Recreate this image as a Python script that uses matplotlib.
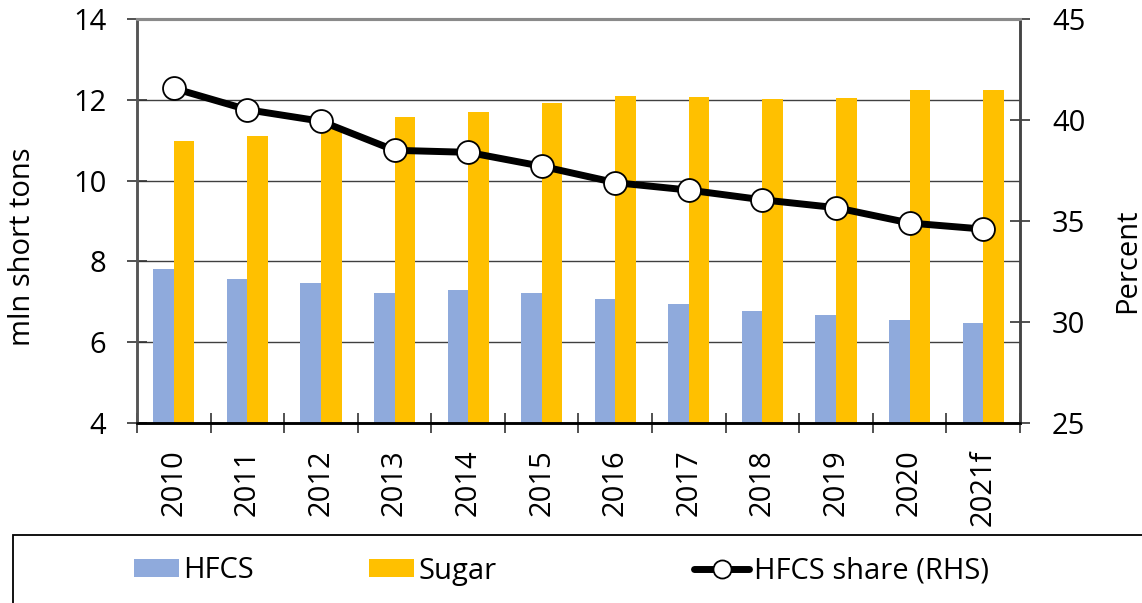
import matplotlib
matplotlib.use("Agg")
import matplotlib.pyplot as plt
from matplotlib.lines import Line2D
from matplotlib.patches import Patch, Rectangle
import numpy as np

years = ["2010", "2011", "2012", "2013", "2014", "2015", "2016", "2017", "2018", "2019", "2020", "2021f"]
hfcs = [7.82, 7.56, 7.47, 7.23, 7.28, 7.21, 7.08, 6.95, 6.78, 6.67, 6.56, 6.47]
sugar = [10.97, 11.10, 11.35, 11.57, 11.69, 11.92, 12.10, 12.07, 12.03, 12.04, 12.25, 12.24]
share = [41.57, 40.51, 39.94, 38.50, 38.40, 37.71, 36.90, 36.53, 36.05, 35.66, 34.90, 34.60]

C_HFCS = "#8FAADC"
C_SUGAR = "#FFC000"
FS = 21

plt.rcParams['font.family'] = ['Open Sans', 'DejaVu Sans']

fig = plt.figure(figsize=(11.42, 6.03), dpi=100)
W, H = 1142, 603
ax = fig.add_axes([137 / W, 1 - 423 / H, (1020 - 137) / W, (423 - 19) / H])
ax2 = ax.twinx()

x = np.arange(len(years))
bw = 0.28
ax.bar(x - bw / 2, hfcs, width=bw, color=C_HFCS, zorder=2)
ax.bar(x + bw / 2, sugar, width=bw, color=C_SUGAR, zorder=2)

ax.set_xlim(-0.5, len(years) - 0.5)
ax.set_ylim(4, 14)
ax.set_yticks([4, 6, 8, 10, 12, 14])
ax.set_axisbelow(True)
ax.yaxis.grid(True, color="#404040", linewidth=1.0)

ax.set_xticks(x)
ax.set_xticklabels(years, rotation=90, fontsize=FS, va="top", ha="center")
ax.tick_params(axis="x", which="major", length=0, pad=19)
ax.set_xticks(np.arange(-0.5, len(years), 1.0), minor=True)
ax.tick_params(axis="x", which="minor", length=14, direction="inout", width=1.2, color="#333333")
ax.tick_params(axis="y", labelsize=FS, length=14, direction="inout", width=1.2, color="#333333", pad=15)
ax.set_ylabel("mln short tons", fontsize=FS)
ax.yaxis.set_label_coords(-0.113, 0.436)

ax2.plot(x, share, color="black", linewidth=5, marker="o", markersize=16.5,
         markerfacecolor="white", markeredgecolor="black", markeredgewidth=1.3,
         solid_joinstyle="round", zorder=5)
ax2.set_ylim(25, 45)
ax2.set_yticks([25, 30, 35, 40, 45])
ax2.tick_params(axis="y", labelsize=FS, length=14, direction="inout", width=1.2, color="#333333", pad=16)
ax2.set_ylabel("Percent", fontsize=FS)
ax2.yaxis.set_label_coords(1.106, 0.401)

for a in (ax, ax2):
    a.spines["top"].set_color("#8a8a8a")
    a.spines["top"].set_linewidth(2.2)
    a.spines["left"].set_color("#555555")
    a.spines["left"].set_linewidth(1.8)
    a.spines["right"].set_color("#444444")
    a.spines["right"].set_linewidth(1.8)
    a.spines["bottom"].set_color("black")
    a.spines["bottom"].set_linewidth(1.8)

# legend frame
fig.patches.append(Rectangle((13 / W, -0.05), 1.1, (1 - 535 / H) + 0.05,
                             transform=fig.transFigure, fill=False,
                             edgecolor="black", linewidth=1.3, clip_on=False))

ly = 1 - 571 / H
h1 = Patch(facecolor=C_HFCS, edgecolor="none")
h2 = Patch(facecolor=C_SUGAR, edgecolor="none")
h3 = Line2D([], [], color="black", linewidth=5, marker="o", markersize=13,
            markerfacecolor="white", markeredgecolor="black", markeredgewidth=1.3,
            solid_capstyle="round")
for h, lab, xs, hl in [(h1, "HFCS", 134, 1.55), (h2, "Sugar", 369, 1.55), (h3, "HFCS share (RHS)", 694, 1.9)]:
    fig.legend(handles=[h], labels=[lab], loc="center left", bbox_to_anchor=(xs / W, ly),
               frameon=False, fontsize=FS, handlelength=hl, handletextpad=0.15,
               borderpad=0, borderaxespad=0, handleheight=0.6)

fig.savefig("out.png", dpi=100)
